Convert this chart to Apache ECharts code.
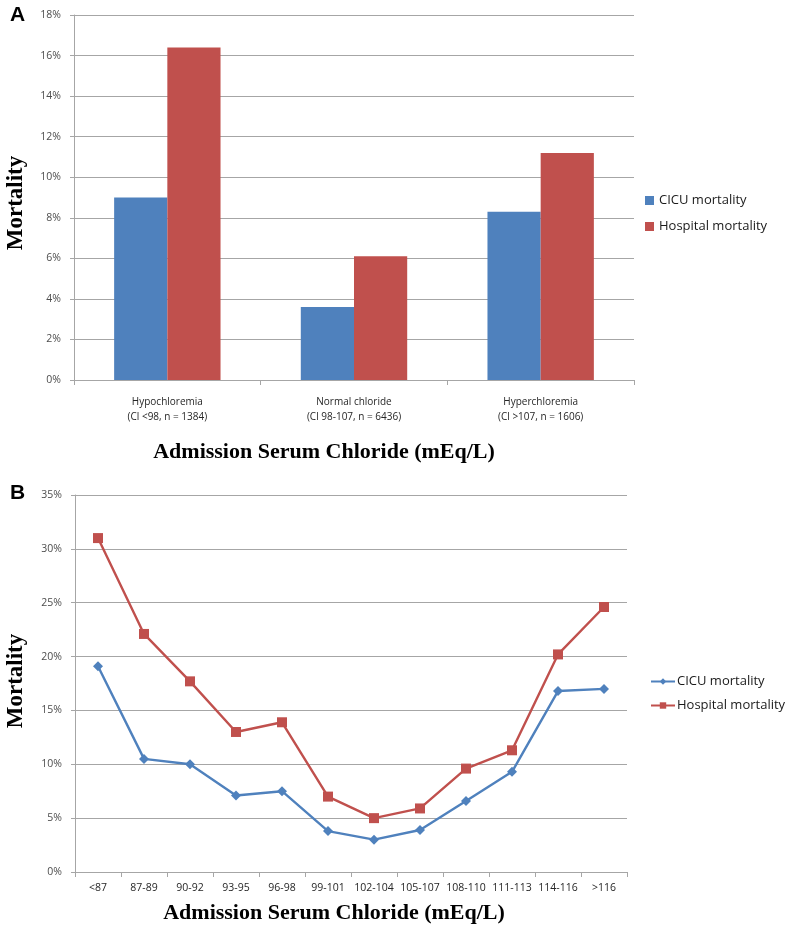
<!DOCTYPE html>
<html>
<head>
<meta charset="utf-8">
<script src="https://cdn.jsdelivr.net/npm/echarts@6/dist/echarts.min.js"></script>
<style>html,body{margin:0;padding:0;background:#fff;}#c{width:800px;height:940px;}</style>
</head>
<body>
<div id="c"></div>
<script>
// Panel A data
const groupCategories = ['Hypochloremia\n(Cl <98, n = 1384)', 'Normal chloride\n(Cl 98-107, n = 6436)', 'Hyperchloremia\n(Cl >107, n = 1606)'];
const groupCICU = [9.0, 3.6, 8.3];
const groupHospital = [16.4, 6.1, 11.2];
// Panel B data
const rangeCategories = ['<87', '87-89', '90-92', '93-95', '96-98', '99-101', '102-104', '105-107', '108-110', '111-113', '114-116', '>116'];
const rangeCICU = [19.1, 10.5, 10.0, 7.1, 7.5, 3.8, 3.0, 3.9, 6.6, 9.3, 16.8, 17.0];
const rangeHospital = [31.0, 22.1, 17.7, 13.0, 13.9, 7.0, 5.0, 5.9, 9.6, 11.3, 20.2, 24.6];
const yTicksA = {min: 0, max: 18, interval: 2};
const yTicksB = {min: 0, max: 35, interval: 5};

const BLUE = '#4F81BD', RED = '#C0504D';
const sans = '"Open Sans", "Noto Sans", sans-serif';
const serif = '"Liberation Serif", "DejaVu Serif", serif';
const gridLine = {lineStyle: {color: '#a6a6a6', width: 1}};
const axisLine = {lineStyle: {color: '#a6a6a6', width: 1}};

const chart = echarts.init(document.getElementById('c'), null, {renderer: 'canvas'});
chart.setOption({
  animation: false,
  backgroundColor: '#fff',
  grid: [
    {left: 74, top: 15, width: 560, height: 365},
    {left: 75, top: 495, width: 552, height: 377}
  ],
  legend: [
    {
      orient: 'vertical', left: 640, top: 189, itemGap: 13, itemWidth: 9, itemHeight: 9,
      icon: 'rect',
      data: ['CICU mortality', 'Hospital mortality'].map(n => ({name: n})),
      textStyle: {fontFamily: sans, fontSize: 13, color: '#1a1a1a'},
      selectedMode: false
    },
    {
      orient: 'vertical', left: 645, top: 670, itemGap: 11, itemWidth: 24, itemHeight: 8,
      data: ['CICU mortality ', 'Hospital mortality '],
      textStyle: {fontFamily: sans, fontSize: 13, color: '#1a1a1a', padding: [0, 0, 0, -3]},
      selectedMode: false
    }
  ],
  xAxis: [
    {
      gridIndex: 0, type: 'category', data: groupCategories,
      axisLine: axisLine, axisTick: {show: true, length: 5, lineStyle: {color: '#a6a6a6'}},
      axisLabel: {fontFamily: sans, fontSize: 10, color: '#262626', lineHeight: 15.5, margin: 14}
    },
    {
      gridIndex: 1, type: 'category', data: rangeCategories, boundaryGap: true,
      axisLine: axisLine, axisTick: {show: true, length: 5, lineStyle: {color: '#a6a6a6'}},
      axisLabel: {fontFamily: sans, fontSize: 10.5, color: '#262626', margin: 11, interval: 0}
    }
  ],
  yAxis: [
    {
      gridIndex: 0, type: 'value', min: yTicksA.min, max: yTicksA.max, interval: yTicksA.interval,
      axisLine: {show: true, lineStyle: {color: '#a6a6a6'}},
      axisTick: {show: true, length: 4, lineStyle: {color: '#a6a6a6'}},
      splitLine: gridLine,
      axisLabel: {formatter: v => v + '%', fontFamily: sans, fontSize: 10.5, color: '#4d4d4d', margin: 13}
    },
    {
      gridIndex: 1, type: 'value', min: yTicksB.min, max: yTicksB.max, interval: yTicksB.interval,
      axisLine: {show: true, lineStyle: {color: '#a6a6a6'}},
      axisTick: {show: true, length: 4, lineStyle: {color: '#a6a6a6'}},
      splitLine: gridLine,
      axisLabel: {formatter: v => v + '%', fontFamily: sans, fontSize: 10.5, color: '#4d4d4d', margin: 13}
    }
  ],
  series: [
    {
      name: 'CICU mortality', type: 'bar', xAxisIndex: 0, yAxisIndex: 0, data: groupCICU,
      itemStyle: {color: BLUE}, barGap: '0%', barCategoryGap: '43%'
    },
    {
      name: 'Hospital mortality', type: 'bar', xAxisIndex: 0, yAxisIndex: 0, data: groupHospital,
      itemStyle: {color: RED}, barGap: '0%', barCategoryGap: '43%'
    },
    {
      name: 'CICU mortality ', type: 'line', xAxisIndex: 1, yAxisIndex: 1, data: rangeCICU,
      symbol: 'diamond', symbolSize: 10, lineStyle: {color: BLUE, width: 2.4},
      itemStyle: {color: BLUE}
    },
    {
      name: 'Hospital mortality ', type: 'line', xAxisIndex: 1, yAxisIndex: 1, data: rangeHospital,
      symbol: 'rect', symbolSize: 10, lineStyle: {color: RED, width: 2.4},
      itemStyle: {color: RED}
    }
  ],
  graphic: [
    {type: 'text', left: 10, top: 5, style: {text: 'A', font: 'bold 21px "Liberation Sans", Arial, sans-serif', fill: '#000'}},
    {type: 'text', left: 10, top: 483, style: {text: 'B', font: 'bold 21px "Liberation Sans", Arial, sans-serif', fill: '#000'}},
    {type: 'text', x: 16, y: 203, rotation: Math.PI / 2,
      style: {text: 'Mortality', font: 'bold 23px ' + serif, fill: '#000', align: 'center', verticalAlign: 'middle'}},
    {type: 'text', x: 16, y: 681, rotation: Math.PI / 2,
      style: {text: 'Mortality', font: 'bold 23px ' + serif, fill: '#000', align: 'center', verticalAlign: 'middle'}},
    {type: 'text', x: 324, y: 452,
      style: {text: 'Admission Serum Chloride (mEq/L)', font: 'bold 22px ' + serif, fill: '#000', align: 'center', verticalAlign: 'middle'}},
    {type: 'text', x: 334, y: 913,
      style: {text: 'Admission Serum Chloride (mEq/L)', font: 'bold 22px ' + serif, fill: '#000', align: 'center', verticalAlign: 'middle'}}
  ]
});
</script>
</body>
</html>
